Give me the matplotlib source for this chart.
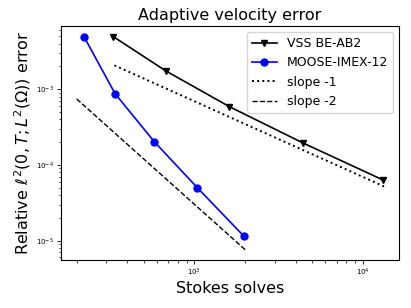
import matplotlib
matplotlib.use("Agg")
import matplotlib.pyplot as plt

# Data
vss_x = [330, 676, 1615, 4445, 13270]
vss_y = [4.96e-3, 1.75e-3, 5.89e-4, 1.94e-4, 6.3e-5]
moose_x = [221, 338, 578, 1042, 1966]
moose_y = [4.96e-3, 8.75e-4, 2.03e-4, 5.0e-5, 1.15e-5]
slope1_x = [335, 13400]
slope1_y = [2.07e-3, 5.2e-5]
slope2_x = [200, 2030]
slope2_y = [7.44e-4, 7.4e-6]

fig = plt.figure(figsize=(4.11, 3.08), dpi=100)
ax = fig.add_axes([0.148, 0.156, 0.8235, 0.7596])

ax.loglog(vss_x, vss_y, color="black", marker="v", markersize=5, lw=1.2, label="VSS BE-AB2")
ax.loglog(moose_x, moose_y, color="blue", marker="o", markersize=5, lw=1.2, label="MOOSE-IMEX-12")
ax.loglog(slope1_x, slope1_y, color="black", ls=":", lw=1.4, label="slope -1")
ax.loglog(slope2_x, slope2_y, color="black", ls="--", lw=1.0, label="slope -2")

ax.set_xlim(161, 16500)
ax.set_ylim(5.56e-6, 6.85e-3)
ax.tick_params(axis="both", which="major", labelsize=5, length=3, width=0.6, pad=2)
ax.tick_params(axis="both", which="minor", length=1.8, width=0.5)

ax.set_title("Adaptive velocity error", fontsize=11.5, pad=4)
ax.set_xlabel("Stokes solves", fontsize=11.5, labelpad=2)
ax.set_ylabel(r"Relative $\ell^2(0,T;L^2(\Omega))$ error", fontsize=11.5, labelpad=2)
ax.legend(loc="upper right", fontsize=9, handlelength=2.0)

fig.savefig("out.png", dpi=100)
